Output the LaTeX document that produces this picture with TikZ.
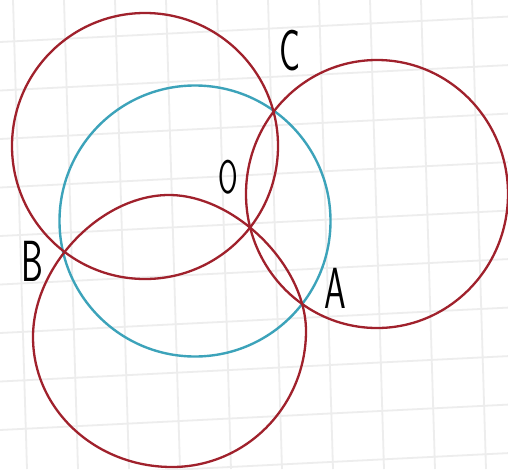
\documentclass[tikz,border=0pt]{standalone}
\definecolor{circred}{RGB}{160,33,44}
\definecolor{circblue}{RGB}{60,163,186}
\definecolor{gridgray}{RGB}{237,237,237}
\tikzset{
  gridline/.style={draw=gridgray,line width=1.8pt},
  redcirc/.style={draw=circred,line width=2.3pt},
  bluecirc/.style={draw=circblue,line width=2.4pt},
  ptlabel/.style={font=\sffamily\fontsize{58}{58}\selectfont,xscale=0.6,inner sep=0pt}
}
\begin{document}
\begin{tikzpicture}[x=1pt,y=-1pt]
  \useasboundingbox (0,0) rectangle (508,469);
  \clip (0,0) rectangle (508,469);
  \fill[white] (0,0) rectangle (508,469);
  % squared paper
  \foreach \k in {0,...,9}
    \draw[gridline] (13+51*\k,0) -- (27+51*\k,469);
  \foreach \j in {0,...,9}
    \draw[gridline] (0,42+48.5*\j) -- (508,16.6+48.5*\j);
  % crossing points
  \coordinate (C) at (273,110);
  \coordinate (O) at (250,228);
  \coordinate (B) at (63,252);
  \coordinate (A) at (302,303);
  \draw[bluecirc] (195,221) circle[radius=135.5];
  \draw[redcirc] (145,146) circle[radius=133];
  \draw[redcirc] (377,194) ellipse[x radius=131,y radius=134];
  \draw[redcirc] (33,337) .. controls (33,266) and (101,195) .. (169,195)
    .. controls (234.8,195) and (306,265.7) .. (306,331)
    .. controls (306,406) and (246,467) .. (172,467)
    .. controls (95,467) and (33,409) .. (33,337) -- cycle;
  \node[ptlabel] (labC) at (290,51) {C};
  \node[ptlabel,font=\sffamily\fontsize{47}{47}\selectfont] (labO) at (228,177) {O};
  \node[ptlabel] (labB) at (32,261) {B};
  \node[ptlabel] (labA) at (335,288) {A};
\end{tikzpicture}
\end{document}
